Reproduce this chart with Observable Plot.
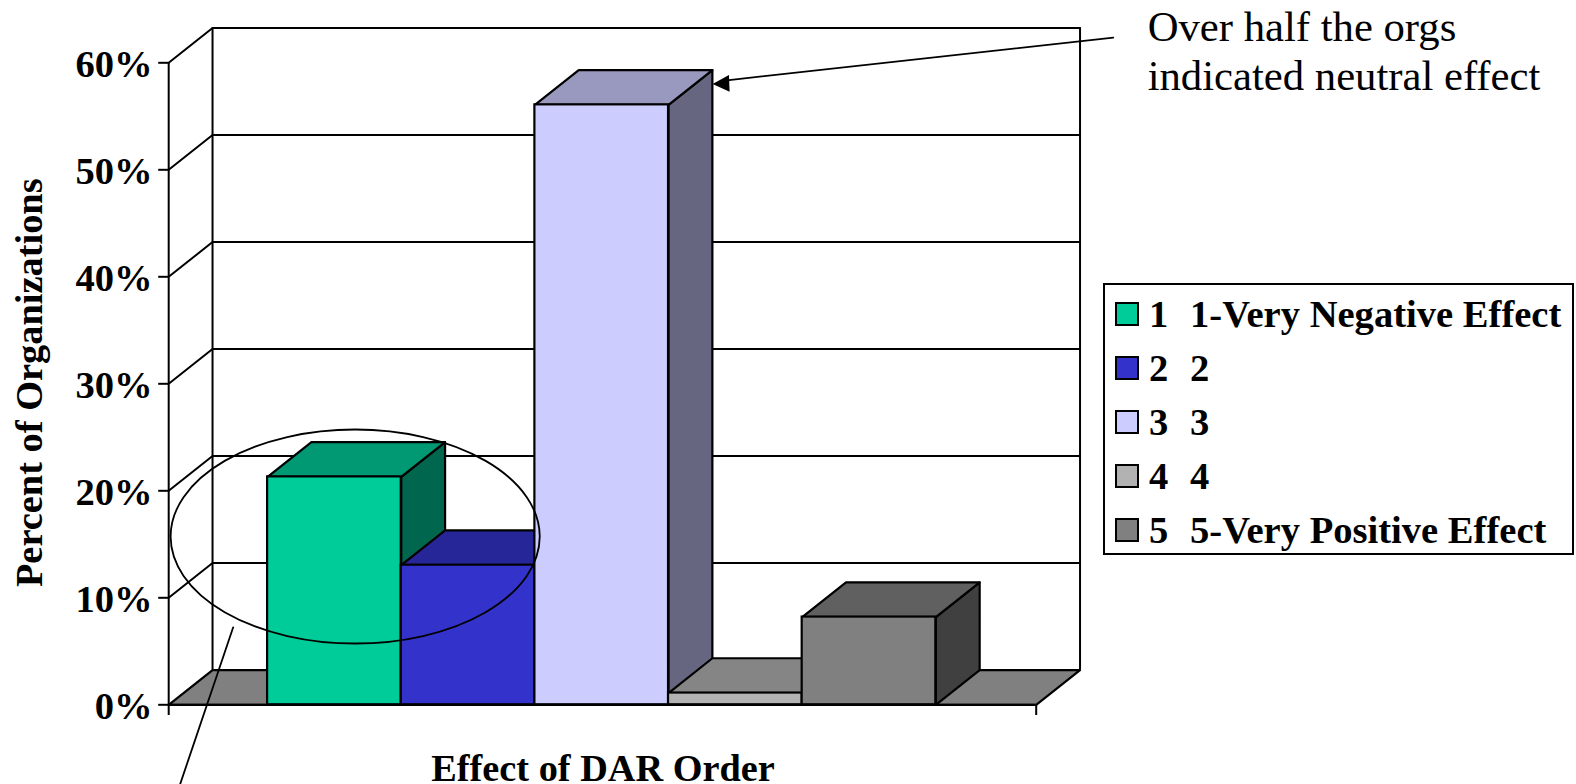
<!DOCTYPE html>
<html>
<head>
<meta charset="utf-8">
<script src="https://cdn.jsdelivr.net/npm/d3@7"></script>
<script src="https://cdn.jsdelivr.net/npm/@observablehq/plot@0.6"></script>
<style>
html,body{margin:0;padding:0;background:#fff;}
#wrap{position:relative;width:1576px;height:784px;overflow:hidden;font-family:"Liberation Serif",serif;}
#legend{position:absolute;left:1103px;top:283px;width:467px;height:268px;border:2px solid #000;box-sizing:content-box;background:#fff;font-weight:bold;font-size:38.6px;color:#000;}
.row{position:absolute;left:0;height:40px;line-height:40px;white-space:pre;}
.sw{position:absolute;left:10px;top:8px;width:20px;height:20px;border:2px solid #000;}
.a{position:absolute;left:44px;top:0;}
.b{position:absolute;left:85px;top:0;}
</style>
</head>
<body>
<div id="wrap"><div id="chart"></div><div id="legend"></div></div>
<script>
// Data
const categories = ["1", "2", "3", "4", "5"];
const legendLabels = ["1-Very Negative Effect", "2", "3", "4", "5-Very Positive Effect"];
const values = [21.3, 13.05, 56.07, 1.1, 8.2];
const frontColors = ["#00CC99", "#3333CC", "#CCCCFF", "#B2B2B2", "#808080"];
const topColors = ["#009973", "#262699", "#9999BF", "#858585", "#606060"];
const sideColors = ["#00664D", "#1A1A66", "#666680", "#595959", "#404040"];
const yTicks = [0, 10, 20, 30, 40, 50, 60];

// Extents in data units: a bar is one unit wide, y is percent
const xLeft = -0.74, xRight = 5.751;
const depthX = 0.328, depthY = 3.25;
const floorColor = "#808080";

const xTitle = "Effect of DAR Order";
const yTitle = "Percent of Organizations";
const noteLines = ["Over half the orgs", "indicated neutral effect"];

const bars = categories.map((c, i) => ({c, i, v: values[i], front: frontColors[i], top: topColors[i], side: sideColors[i]}));

const sides = bars.flatMap(b => [
  [b.i + 1, 0], [b.i + 1 + depthX, depthY], [b.i + 1 + depthX, b.v + depthY], [b.i + 1, b.v]
].map(([x, y]) => ({x, y, id: b.c, color: b.side})));

const tops = bars.flatMap(b => [
  [b.i, b.v], [b.i + depthX, b.v + depthY], [b.i + 1 + depthX, b.v + depthY], [b.i + 1, b.v]
].map(([x, y]) => ({x, y, id: b.c, color: b.top})));

const floor = [
  {x: xLeft, y: 0}, {x: xLeft + depthX, y: depthY}, {x: xRight + depthX, y: depthY}, {x: xRight, y: 0}
];

const grid = yTicks.slice(1).flatMap(t => [
  {x: xLeft, y: t, id: t}, {x: xLeft + depthX, y: t + depthY, id: t}, {x: xRight + depthX, y: t + depthY, id: t}
]);

// Callouts
const leader = [{x: -0.258, y: 7.23}, {x: -0.655, y: -7.44}];
const arrowLine = [{x: 6.328, y: 62.36}, {x: 3.42, y: 58.34}];
const arrowHead = [{x: 3.33, y: 58.02}, {x: 3.452, y: 58.85}, {x: 3.457, y: 57.3}];
const ellipse = {cx: 0.659, cy: 15.68, rx: 1.381, ry: 10};

const ellipseMark = (index, {x, y}) => {
  const e = document.createElementNS("http://www.w3.org/2000/svg", "ellipse");
  e.setAttribute("cx", x(ellipse.cx));
  e.setAttribute("cy", y(ellipse.cy));
  e.setAttribute("rx", Math.abs(x(ellipse.cx + ellipse.rx) - x(ellipse.cx)));
  e.setAttribute("ry", Math.abs(y(ellipse.cy + ellipse.ry) - y(ellipse.cy)));
  e.setAttribute("fill", "none");
  e.setAttribute("stroke", "#000");
  e.setAttribute("stroke-width", 1.8);
  return e;
};

const W = 2.2;
const L = 2;
const chart = Plot.plot({
  width: 1576,
  height: 784,
  marginLeft: 168.2,
  marginRight: 1576 - 1035.7,
  marginTop: 62.3,
  marginBottom: 784 - 704.3,
  style: {background: "#fff", fontFamily: "Liberation Serif", overflow: "visible"},
  x: {domain: [xLeft, xRight], axis: null},
  y: {domain: [0, 60]},
  color: {type: "identity"},
  marks: [
    // walls
    Plot.line(grid, {x: "x", y: "y", z: "id", stroke: "#000", strokeWidth: L}),
    Plot.ruleX([xLeft + depthX], {y1: depthY, y2: 60 + depthY, stroke: "#000", strokeWidth: L}),
    Plot.ruleX([xRight + depthX], {y1: depthY, y2: 60 + depthY, stroke: "#000", strokeWidth: L}),
    // floor
    Plot.line(floor, {x: "x", y: "y", fill: floorColor, stroke: "#000", strokeWidth: W, curve: "linear-closed"}),
    // bars: sides, then tops, then fronts
    Plot.line(sides, {x: "x", y: "y", z: "id", fill: "color", stroke: "#000", strokeWidth: W, curve: "linear-closed"}),
    Plot.line(tops, {x: "x", y: "y", z: "id", fill: "color", stroke: "#000", strokeWidth: W, curve: "linear-closed"}),
    Plot.rect(bars, {x1: "i", x2: d => d.i + 1, y1: 0, y2: "v", fill: "front", stroke: "#000", strokeWidth: W}),
    // axes
    Plot.ruleX([xLeft], {y1: -1, y2: 60, stroke: "#000", strokeWidth: L}),
    Plot.ruleX([xRight], {y1: -1, y2: 0, stroke: "#000", strokeWidth: L}),
    Plot.ruleY([0], {x1: xLeft, x2: xRight, stroke: "#000", strokeWidth: W}),
    Plot.axisY(yTicks, {anchor: "left", label: null, tickSize: 10, fill: "none", stroke: "#000", strokeWidth: L}),
    Plot.axisY(yTicks, {
      anchor: "left", label: null, tickSize: 0, tickPadding: 16, dy: 1.5,
      tickFormat: d => d + "%", fontSize: 38.6, fontWeight: "bold", fill: "#000"
    }),
    Plot.text([xTitle], {x: 2.51, y: -6, text: d => d, fontSize: 38.3, fontWeight: "bold", fill: "#000"}),
    Plot.text([yTitle], {x: -1.778, y: 30.1, text: d => d, rotate: -90, fontSize: 38.4, fontWeight: "bold", fill: "#000"}),
    // annotations
    ellipseMark,
    Plot.line(leader, {x: "x", y: "y", stroke: "#000", strokeWidth: 1.8}),
    Plot.line(arrowLine, {x: "x", y: "y", stroke: "#000", strokeWidth: 1.8}),
    Plot.line(arrowHead, {x: "x", y: "y", fill: "#000", stroke: "none", curve: "linear-closed"}),
    Plot.text([noteLines[0]], {x: 6.585, y: 63.3, text: d => d, textAnchor: "start", fontSize: 42.7, fill: "#000"}),
    Plot.text([noteLines[1]], {x: 6.585, y: 58.7, text: d => d, textAnchor: "start", fontSize: 42.7, fill: "#000"})
  ]
});
document.getElementById("chart").appendChild(chart);

const legend = d3.select("#legend");
bars.forEach((b, i) => {
  const row = legend.append("div").attr("class", "row").style("top", (9 + i * 54) + "px").style("width", "100%");
  row.append("div").attr("class", "sw").style("background", b.front);
  row.append("span").attr("class", "a").text(b.c);
  row.append("span").attr("class", "b").text(legendLabels[i]);
});
</script>
</body>
</html>
